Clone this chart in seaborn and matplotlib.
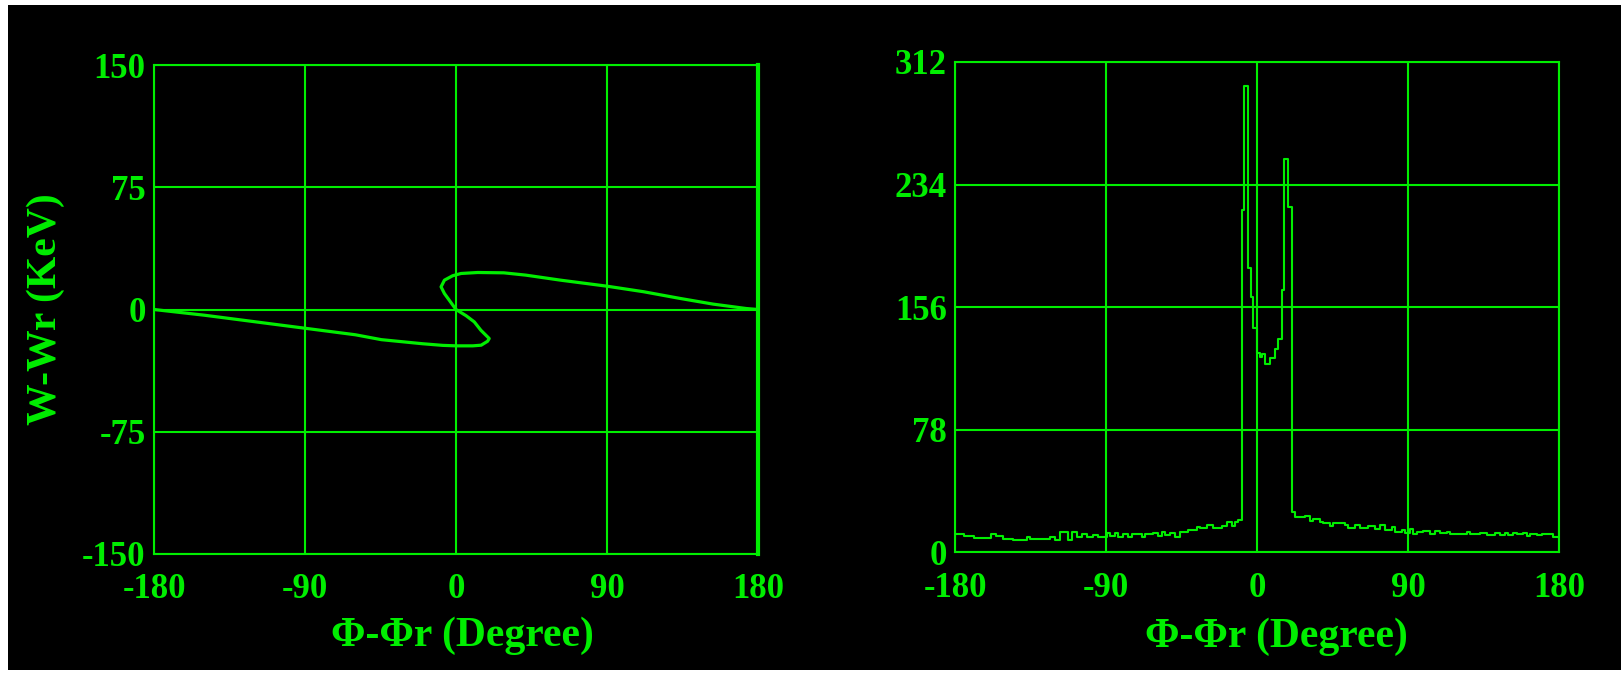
import matplotlib
matplotlib.use('Agg')
import matplotlib.pyplot as plt
import seaborn as sns
from matplotlib.patches import Rectangle

# Kolory i czcionki
green = '#00ee00'

# Lewy wykres: separatrysa (faza w stopniach, W-Wr w keV)
phase = [-180, -150, -120, -90, -60, -44.5, -20, -8, 0, 10, 15, 18.8, 19.8, 14.8,
         10.9, 6, 0, -6.9, -8.9, -6.9, -2, 3, 12.9, 28.5, 41.5, 62.3, 90, 111.8,
         133.5, 153.3, 173, 180]
dw = [0, -3.5, -7.5, -11.5, -15.5, -18.5, -21, -22, -22.3, -22.3, -21.9, -19.5,
      -17.8, -12.7, -7.6, -3.8, 0, 9.8, 13.9, 18, 20.7, 22.1, 22.7, 22.5, 21.1,
      18, 14.3, 10.9, 6.8, 3.3, 0.6, 0]

# Prawy wykres: histogram fazy (krawędzie przedziałów i wartości)
hist_edges = [-180, -174.5, -168.5, -158.6, -155.6, -151.2, -145.2, -137.3, -135.3,
              -123.4, -120.4, -117.4, -112.4, -110.5, -107.5, -104.5, -101.5, -97.5,
              -94.6, -89.6, -87.6, -84.6, -82.6, -79.6, -76.6, -74.7, -68.7, -66.7,
              -61.8, -58.8, -56.8, -54.8, -51.8, -48.8, -45.9, -40.9, -35.9, -33.9,
              -29.9, -26, -21, -18, -15.1, -13.1, -11.1, -8.8, -7.7, -5.4, -3.4,
              -2.4, 0, 1.8, 3.2, 4.8, 7.7, 10.7, 12.7, 15.1, 16.0, 18.3, 20.6, 22.7,
              28.6, 31.6, 33.6, 37.5, 39.5, 43.5, 45.5, 52.4, 54.4, 58.4, 61.4, 66.3,
              70.3, 73.3, 76.3, 80.2, 82.2, 86.2, 88.2, 91.2, 93.2, 95.1, 99.1, 103.1,
              106.1, 109.0, 113, 115, 124.9, 126.9, 132.9, 136.9, 141.8, 144.8, 147.8,
              149.8, 152.8, 154.7, 158.7, 160.7, 162.7, 166.6, 169.6, 172.6, 176.6, 180]
hist_counts = [11.5, 10.7, 9.0, 11.5, 10.7, 8.5, 8.0, 10.0, 8.5,
               10.0, 8.0, 12.8, 8.0, 12.8, 10.0, 12.0, 10.0, 11.0,
               10.0, 12.4, 10.3, 12.4, 9.9, 11.6, 9.9, 12.0, 9.9, 11.6,
               12.4, 10.3, 13.1, 10.9, 12.4, 9.9, 13.1, 14.2, 16.4, 15.3,
               17.5, 15.3, 16.8, 19.1, 17.0, 19.5, 20.6, 217.7, 297, 181, 162.6,
               143, 127, 124, 126, 120, 123.4, 129.7, 135.5, 166.8, 250, 220, 25.9,
               22.7, 23.0, 19.8, 21.0, 19.3, 18.7, 16.6, 18.7, 17.7, 15.3, 17.7, 15.3,
               16.6, 14.8, 17.7, 14.2, 15.9, 13.1, 14.2, 12.4, 14.6, 11.5, 13.1, 13.8,
               12.0, 13.8, 12.4, 13.1, 11.7, 13.1, 12.0, 12.4, 10.9, 12.4, 10.9, 12.4,
               10.9, 12.4, 12.0, 12.4, 10.5, 12.0, 10.9, 12.0, 11.6, 10.0]

x_ticks = [-180, -90, 0, 90, 180]
x_tick_labels = ['-180', '-90', '0', '90', '180']
left_y_ticks = [-150, -75, 0, 75, 150]
left_y_tick_labels = ['-150', '-75', '0', '75', '150']
right_y_ticks = [0, 78, 156, 234, 312]
right_y_tick_labels = ['0', '78', '156', '234', '312']

sns.set_style('dark', rc={'axes.facecolor': 'black', 'axes.edgecolor': green,
                          'grid.color': green})
plt.rcParams['font.family'] = ['Liberation Serif', 'DejaVu Serif']
plt.rcParams['font.weight'] = 'bold'

fig = plt.figure(figsize=(16.21, 6.77), dpi=100, facecolor='white')
fig.patches.append(Rectangle((8 / 1621, 7 / 677), 1 - 8 / 1621, 665 / 677,
                             transform=fig.transFigure, facecolor='black',
                             edgecolor='none', zorder=-10))

ax1 = fig.add_axes([154 / 1621, 1 - 554 / 677, 604 / 1621, 489 / 677])
ax2 = fig.add_axes([955 / 1621, 1 - 552.4 / 677, 604 / 1621, 490.4 / 677])

# Lewy wykres
sns.lineplot(x=phase, y=dw, sort=False, estimator=None, color=green,
             linewidth=2.3, ax=ax1)

# Prawy wykres
sns.lineplot(x=hist_edges, y=hist_counts + [hist_counts[-1]], sort=False,
             estimator=None, drawstyle='steps-post', color=green,
             linewidth=1.5, ax=ax2)

for ax, yt, ytl, ylim in [(ax1, left_y_ticks, left_y_tick_labels, (-150, 150)),
                          (ax2, right_y_ticks, right_y_tick_labels, (0, 312))]:
    ax.set_xlim(-180, 180)
    ax.set_ylim(*ylim)
    ax.set_xticks(x_ticks)
    ax.set_xticklabels(x_tick_labels)
    ax.set_yticks(yt)
    ax.set_yticklabels(ytl)
    ax.grid(True, color=green, linewidth=1.5)
    ax.set_axisbelow(True)
    ax.tick_params(axis='both', length=0, colors=green, labelsize=25)
    ax.tick_params(axis='x', pad=14)
    ax.tick_params(axis='y', pad=6)
    for lab in ax.get_xticklabels() + ax.get_yticklabels():
        lab.set_fontweight('bold')
    for side in ['left', 'right', 'top', 'bottom']:
        ax.spines[side].set_visible(True)
        ax.spines[side].set_color(green)
        ax.spines[side].set_linewidth(1.5)
    ax.set_xlabel('Φ-Φr (Degree)', color=green, fontsize=30, fontweight='bold')

ax1.spines['right'].set_linewidth(3)
ax1.set_ylabel('W-Wr (KeV)', color=green, fontsize=30, fontweight='bold')
ax1.yaxis.set_label_coords(-0.147, 0.5)
ax1.xaxis.set_label_coords(0.51, -0.128)
ax2.xaxis.set_label_coords(0.533, -0.132)

fig.savefig('out.png', dpi=100, facecolor=fig.get_facecolor())
